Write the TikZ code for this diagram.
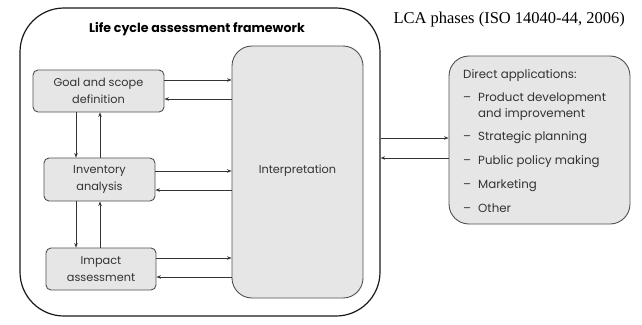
\documentclass[tikz,border=0pt]{standalone}
\usepackage{fontspec}
\setmainfont{Poppins}
\newfontfamily\timesfont{Liberation Serif}
\usetikzlibrary{arrows.meta,calc}
\definecolor{boxfill}{HTML}{E6E6E6}
\definecolor{boxline}{HTML}{505050}
\definecolor{txt}{HTML}{333333}
\begin{document}
\begin{tikzpicture}[x=1pt,y=-1pt,
  phase/.style={draw=boxline,fill=boxfill,line width=0.9pt,rounded corners=5pt,
    align=center,inner sep=0pt,text=txt,font=\fontsize{11.3}{16.5}\selectfont},
  conn/.style={draw=black!80,line width=0.8pt,-{Stealth[length=4.5pt,width=3.5pt]}},
  ]
\useasboundingbox (0,0) rectangle (642,324);
% outer frame
\node[draw=black!90,line width=1.2pt,rounded corners=44pt,minimum width=360pt,minimum height=308pt,inner sep=0pt]
  (frame) at (200,162) {};
\node[font=\bfseries\fontsize{12.6}{14}\selectfont] (ftitle) at (197,29) {Life cycle assessment framework};
% phases
\node[phase,minimum width=131pt,minimum height=42pt] (goal) at (98.5,91) {Goal and scope\\definition};
\node[phase,minimum width=111pt,minimum height=43pt] (inv) at (99.5,179.5) {Inventory\\analysis};
\node[phase,minimum width=110pt,minimum height=42pt] (imp) at (101,269) {Impact\\assessment};
\node[phase,rounded corners=20pt,minimum width=131pt,minimum height=252pt] (interp) at (297.5,172) {};
\node[text=txt,font=\fontsize{11.3}{13}\selectfont] (interptext) at (297.5,171) {Interpretation};
% right box
\node[draw=boxline,fill=boxfill,line width=0.9pt,rounded corners=20pt,minimum width=181pt,minimum height=168pt,inner sep=0pt]
  (apps) at (539.5,140) {};
\node[anchor=north west,inner sep=0pt,align=left,text=txt,font=\fontsize{11.8}{15.5}\selectfont] (appstext) at (463,67)
 {\begin{tabular}{@{}l@{\hspace{7pt}}l@{}}
  \multicolumn{2}{@{}l@{}}{Direct applications:}\\[8pt]
  --&Product development\\
    &and improvement\\[7.5pt]
  --&Strategic planning\\[8.5pt]
  --&Public policy making\\[9pt]
  --&Marketing\\[8.5pt]
  --&Other
 \end{tabular}};
% title
\node[font=\timesfont\fontsize{16.5}{19}\selectfont,anchor=west] (ltitle) at (390,20) {LCA phases (ISO 14040-44, 2006)};
% horizontal connectors
\path ([yshift=11pt]goal.east) coordinate (g1) ([yshift=-8pt]goal.east) coordinate (g2);
\draw[conn] (g1) -- (g1 -| interp.west);
\draw[conn] (g2 -| interp.west) -- (g2);
\path ([yshift=8.5pt]inv.east) coordinate (i1) ([yshift=-10.5pt]inv.east) coordinate (i2);
\draw[conn] (i1) -- (i1 -| interp.west);
\draw[conn] (i2 -| interp.west) -- (i2);
\path ([yshift=11pt]imp.east) coordinate (m1) ([yshift=-8pt]imp.east) coordinate (m2);
\draw[conn] (m1) -- (m1 -| interp.west);
\draw[conn] (m2 -| interp.west) -- (m2);
% vertical connectors
\path (goal.south -| 76,0) coordinate (gd) (goal.south -| 100,0) coordinate (gu);
\draw[conn] (gd) -- (gd |- inv.north);
\draw[conn] (gu |- inv.north) -- (gu);
\path (inv.south -| 76,0) coordinate (vd) (inv.south -| 100,0) coordinate (vu);
\draw[conn] (vd) -- (vd |- imp.north);
\draw[conn] (vu |- imp.north) -- (vu);
% frame <-> apps
\path ([yshift=24pt]frame.east) coordinate (f1) ([yshift=4pt]frame.east) coordinate (f2);
\draw[conn] (f1) -- (f1 -| apps.west);
\draw[conn] (f2 -| apps.west) -- (f2);
\end{tikzpicture}
\end{document}
